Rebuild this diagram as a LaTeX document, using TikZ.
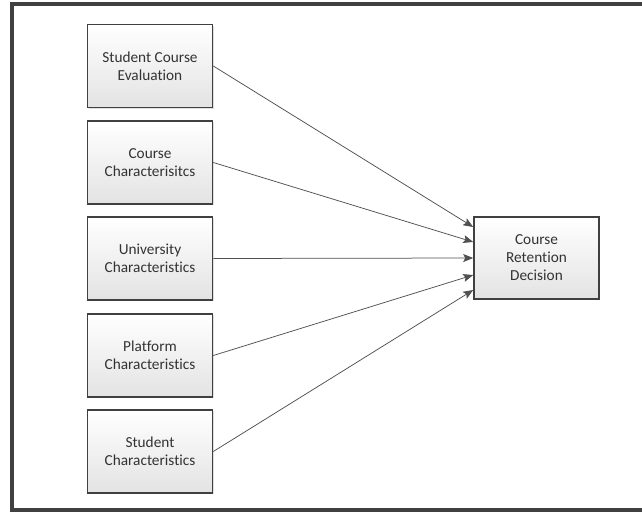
\documentclass[tikz,border=0pt]{standalone}
\usepackage{fontspec}
\setmainfont{Carlito}[Ligatures={NoCommon}]
\usetikzlibrary{arrows.meta,shadows}
\definecolor{edgegray}{HTML}{404040}
\definecolor{txtgray}{HTML}{333333}
\definecolor{arrowgray}{HTML}{505050}
\begin{document}
\begin{tikzpicture}[x=1pt,y=-1pt,
  factorbox/.style={draw=edgegray, line width=1.6pt, top color=white, bottom color=gray!22,
    minimum width=125pt, minimum height=83pt, align=center, text=txtgray,
    font=\fontsize{15.3}{18}\selectfont,
    drop shadow={shadow xshift=1.2pt, shadow yshift=-1.2pt, opacity=0.25}},
  link/.style={draw=arrowgray, line width=0.75pt, -{Stealth[length=10pt,width=8pt,inset=2pt]}}]
\useasboundingbox (0,0) rectangle (642,512);
\draw[edgegray, line width=3.5pt] (12,4) rectangle (660,510);
\node[factorbox] (b1) at (150,66) {Student Course\\Evaluation};
\node[factorbox] (b2) at (150,162.5) {Course\\Characterisitcs};
\node[factorbox] (b3) at (150,258.5) {University\\Characteristics};
\node[factorbox] (b4) at (150,355.5) {Platform\\Characteristics};
\node[factorbox] (b5) at (150,451.5) {Student\\Characteristics};
\node[factorbox, minimum height=82pt] (r) at (536.5,258) {Course\\Retention\\Decision};
\draw[link] (b1.east) -- ([yshift=31pt]r.west);
\draw[link] (b2.east) -- ([yshift=16pt]r.west);
\draw[link] (b3.east) -- ([yshift=0pt]r.west);
\draw[link] (b4.east) -- ([yshift=-17pt]r.west);
\draw[link] (b5.east) -- ([yshift=-32pt]r.west);
\end{tikzpicture}
\end{document}
